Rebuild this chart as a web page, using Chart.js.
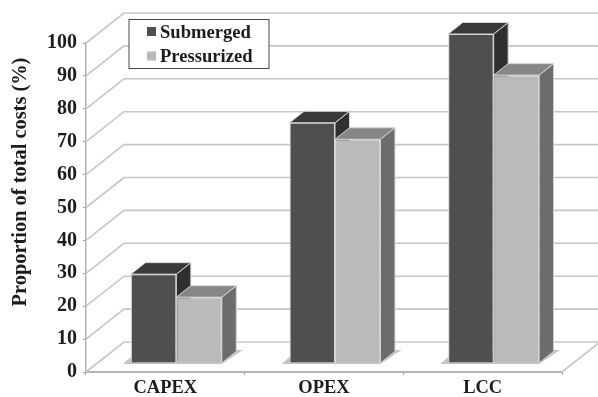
<!DOCTYPE html>
<html>
<head>
<meta charset="utf-8">
<style>
  html, body { margin: 0; padding: 0; background: #fff; }
  canvas { display: block; filter: blur(0.55px); }
</style>
<script src="https://cdn.jsdelivr.net/npm/chart.js@4/dist/chart.umd.min.js"></script>
</head>
<body>
<canvas id="costChart" width="598" height="397"></canvas>
<script>
const categories = ["CAPEX", "OPEX", "LCC"];
const submerged = [27, 73, 100];
const pressurized = [20, 68, 87.5];
const seriesNames = ["Submerged", "Pressurized"];
const yTicks = [0, 10, 20, 30, 40, 50, 60, 70, 80, 90, 100];
const yTitle = "Proportion of total costs (%)";

const FONT = '"Liberation Serif", serif';
const TEXT = "#1c1c1c";
const GRID = "#c6c6c6";

// fake 3d: how far the back wall and the bars sit behind the axis plane
const WALL = { dx: 38, dy: -30 };
const BAR = { dx: 11, dy: -9 };
const DEPTH = { dx: 14.5, dy: -11.5 };

const faceColors = [
  { front: "#4f4f4f", top: "#3a3a3a", side: "#2f2f2f" },
  { front: "#bababa", top: "#868686", side: "#6c6c6c" }
];

function face(ctx, pts, fill) {
  ctx.beginPath();
  pts.forEach((p, i) => (i ? ctx.lineTo(p[0], p[1]) : ctx.moveTo(p[0], p[1])));
  ctx.closePath();
  ctx.fillStyle = fill;
  ctx.fill();
  ctx.strokeStyle = "#d4d4d4";
  ctx.lineWidth = 1;
  ctx.stroke();
}

const wallPlugin = {
  id: "wall",
  beforeDatasetsDraw(chart) {
    const { ctx, chartArea: area, scales } = chart;
    ctx.save();
    ctx.strokeStyle = GRID;
    ctx.lineWidth = 1.6;
    yTicks.forEach(v => {
      const y = scales.y.getPixelForValue(v);
      ctx.beginPath();
      ctx.moveTo(area.left, y);
      ctx.lineTo(area.left + WALL.dx, y + WALL.dy);
      ctx.lineTo(area.right + WALL.dx, y + WALL.dy);
      ctx.stroke();
    });
    // right edge of the floor
    const y0 = scales.y.getPixelForValue(0);
    ctx.beginPath();
    ctx.moveTo(area.right, y0);
    ctx.lineTo(area.right + WALL.dx, y0 + WALL.dy);
    ctx.stroke();

    // floor shadow under each group
    const a = chart.getDatasetMeta(0).data;
    const b = chart.getDatasetMeta(1).data;
    const base = y0 + BAR.dy;
    categories.forEach((c, i) => {
      const l = a[i].x - a[i].width / 2 + BAR.dx;
      const r = b[i].x + b[i].width / 2 + BAR.dx;
      ctx.beginPath();
      ctx.moveTo(l - 8, base + 1);
      ctx.lineTo(l, base - 6);
      ctx.lineTo(r + DEPTH.dx, base - 13);
      ctx.lineTo(r + 21, base - 13);
      ctx.lineTo(r, base + 1);
      ctx.closePath();
      ctx.fillStyle = "#c4c4c4";
      ctx.fill();
    });

    // side and top faces, back series first
    categories.forEach((c, i) => {
      [0, 1].forEach(d => {
        const bar = chart.getDatasetMeta(d).data[i];
        const l = bar.x - bar.width / 2 + BAR.dx;
        const r = bar.x + bar.width / 2 + BAR.dx;
        const t = bar.y + BAR.dy;
        const colors = faceColors[d];
        face(ctx, [[r, t], [r + DEPTH.dx, t + DEPTH.dy], [r + DEPTH.dx, base + DEPTH.dy], [r, base]], colors.side);
        face(ctx, [[l, t], [l + DEPTH.dx, t + DEPTH.dy], [r + DEPTH.dx, t + DEPTH.dy], [r, t]], colors.top);
      });
    });
    ctx.translate(BAR.dx, BAR.dy); // front faces come from the library, shifted
  },
  afterDatasetsDraw(chart) {
    chart.ctx.restore();
  },
  afterDraw(chart) {
    const { ctx } = chart;
    ctx.save();
    // y title sits above the middle of the axis, so not the native one
    ctx.save();
    ctx.translate(26, 182);
    ctx.rotate(-Math.PI / 2);
    ctx.font = "bold 20.4px " + FONT;
    ctx.fillStyle = TEXT;
    ctx.textAlign = "center";
    ctx.fillText(yTitle, 0, 0);
    ctx.restore();

    ctx.fillStyle = "#fff";
    ctx.strokeStyle = "#4a4a4a";
    ctx.lineWidth = 1;
    ctx.fillRect(129, 19.5, 140, 49);
    ctx.strokeRect(129, 19.5, 140, 49);
    ctx.font = "bold 18.6px " + FONT;
    ctx.textBaseline = "alphabetic";
    seriesNames.forEach((name, i) => {
      ctx.fillStyle = faceColors[i].front;
      ctx.fillRect(147, 27 + i * 24.5, 9, 9);
      ctx.fillStyle = TEXT;
      ctx.fillText(name, 160, 37.5 + i * 24);
    });
    ctx.restore();
  }
};

new Chart(document.getElementById("costChart"), {
  type: "bar",
  data: {
    labels: categories,
    datasets: [
      { label: seriesNames[0], data: submerged, backgroundColor: faceColors[0].front, borderColor: "#d4d4d4", borderWidth: 1 },
      { label: seriesNames[1], data: pressurized, backgroundColor: faceColors[1].front, borderColor: "#d4d4d4", borderWidth: 1 }
    ]
  },
  options: {
    responsive: false,
    animation: false,
    layout: { padding: { top: 43, right: 36, left: 0, bottom: 0 } },
    plugins: { legend: { display: false }, tooltip: { enabled: false } },
    datasets: { bar: { categoryPercentage: 0.573, barPercentage: 1 } },
    scales: {
      x: {
        afterFit: s => { s.height = 25; },
        border: { color: "#b4b4b4", width: 2 },
        grid: { drawOnChartArea: false, tickLength: 3, color: "#a0a0a0" },
        ticks: { color: TEXT, font: { family: FONT, size: 18.5, weight: "bold" }, padding: 2 }
      },
      y: {
        min: 0,
        max: 100,
        afterFit: s => { s.width = 86; },
        afterBuildTicks: s => { s.ticks = yTicks.map(v => ({ value: v })); },
        border: { color: "#b4b4b4", width: 1.5 },
        grid: { drawOnChartArea: false, tickLength: 3, color: "#a0a0a0" },
        ticks: { color: TEXT, font: { family: FONT, size: 20, weight: "bold" }, padding: 6 }
      }
    }
  },
  plugins: [wallPlugin]
});
</script>
</body>
</html>
